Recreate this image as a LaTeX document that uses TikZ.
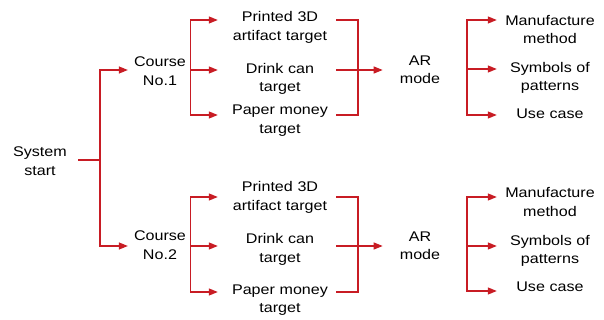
\documentclass[tikz,border=0pt]{standalone}
\usepackage{fontspec}
\setmainfont{Liberation Sans}[FakeStretch=1.15]
\usetikzlibrary{arrows.meta}
\definecolor{lred}{RGB}{200,28,36}
\begin{document}
\begin{tikzpicture}[x=1pt,y=-1pt,
  lbl/.style={align=center,inner sep=0pt,font=\fontsize{14}{18.5}\selectfont,text=black},
  tgt/.style={lbl,text width=104pt},
  res/.style={lbl,text width=96pt},
  ln/.style={draw=lred,line width=1.2pt},
  arr/.style={ln,-{Triangle[length=9pt,width=7pt]}}]
\useasboundingbox (0,0) rectangle (604,320);
% nodes
\node[lbl] (sys) at (40,161) {System\\start};
\node[lbl] (c1) at (160,71) {Course\\No.1};
\node[lbl] (c2) at (160,245) {Course\\No.2};
\node[tgt] (t1) at (280,27.5) {Printed 3D\\artifact target};
\node[tgt] (t2) at (280,79) {Drink can\\target};
\node[tgt] (t3) at (280,120.5) {Paper money\\target};
\node[tgt] (t4) at (280,197.5) {Printed 3D\\artifact target};
\node[tgt] (t5) at (280,249.5) {Drink can\\target};
\node[tgt] (t6) at (280,300) {Paper money\\target};
\node[lbl] (a1) at (420,70) {AR\\mode};
\node[lbl] (a2) at (420,246) {AR\\mode};
\node[res] (r1) at (550,29.5) {Manufacture\\method};
\node[res] (r2) at (550,78) {Symbols of\\patterns};
\node[res] (r3) at (550,114) {Use case};
\node[res] (r4) at (550,202) {Manufacture\\method};
\node[res] (r5) at (550,251) {Symbols of\\patterns};
\node[res] (r6) at (550,287) {Use case};
% system start fork
\coordinate (f0) at (100,160);
\draw[ln] ([xshift=11pt,yshift=1pt]sys.east) -- (f0);
\draw[arr] (f0) |- ([xshift=-6pt,yshift=1pt]c1.west);
\draw[arr] (f0) |- ([xshift=-6pt,yshift=-1pt]c2.west);
% course 1 fork
\draw[arr] ([xshift=4pt]c1.east) |- ([xshift=-10pt,yshift=7.5pt]t1.west);
\draw[arr] ([xshift=4pt,yshift=1pt]c1.east) -- ([xshift=-10pt,yshift=9pt]t2.west);
\draw[arr] ([xshift=4pt]c1.east) |- ([xshift=-10pt,yshift=5.5pt]t3.west);
% course 2 fork
\draw[arr] ([xshift=4pt]c2.east) |- ([xshift=-10pt,yshift=0.5pt]t4.west);
\draw[arr] ([xshift=4pt,yshift=-1pt]c2.east) -- ([xshift=-10pt,yshift=3.5pt]t5.west);
\draw[arr] ([xshift=4pt]c2.east) |- ([xshift=-10pt,yshift=8pt]t6.west);
% join to AR mode 1
\coordinate (j1) at (358,70);
\draw[ln] ([xshift=4pt,yshift=7.5pt]t1.east) -| (j1);
\draw[ln] ([xshift=4pt,yshift=5.5pt]t3.east) -| (j1);
\draw[arr] ([xshift=4pt,yshift=9pt]t2.east) -- ([xshift=-17pt]a1.west);
% join to AR mode 2
\coordinate (j2) at (358,246);
\draw[ln] ([xshift=4pt,yshift=0.5pt]t4.east) -| (j2);
\draw[ln] ([xshift=4pt,yshift=8pt]t6.east) -| (j2);
\draw[arr] ([xshift=4pt,yshift=3.5pt]t5.east) -- ([xshift=-17pt]a2.west);
% result fork 1
\coordinate (k1) at (467,69);
\draw[arr] (k1) |- ([xshift=-5pt,yshift=9.5pt]r1.west);
\draw[arr] (k1) -- ([xshift=-5pt,yshift=9pt]r2.west);
\draw[arr] (k1) |- ([xshift=-5pt,yshift=-1pt]r3.west);
% result fork 2
\coordinate (k2) at (467,246);
\draw[arr] (k2) |- ([xshift=-5pt,yshift=5pt]r4.west);
\draw[arr] (k2) -- ([xshift=-5pt,yshift=5pt]r5.west);
\draw[arr] (k2) |- ([xshift=-5pt,yshift=-4pt]r6.west);
\end{tikzpicture}
\end{document}
